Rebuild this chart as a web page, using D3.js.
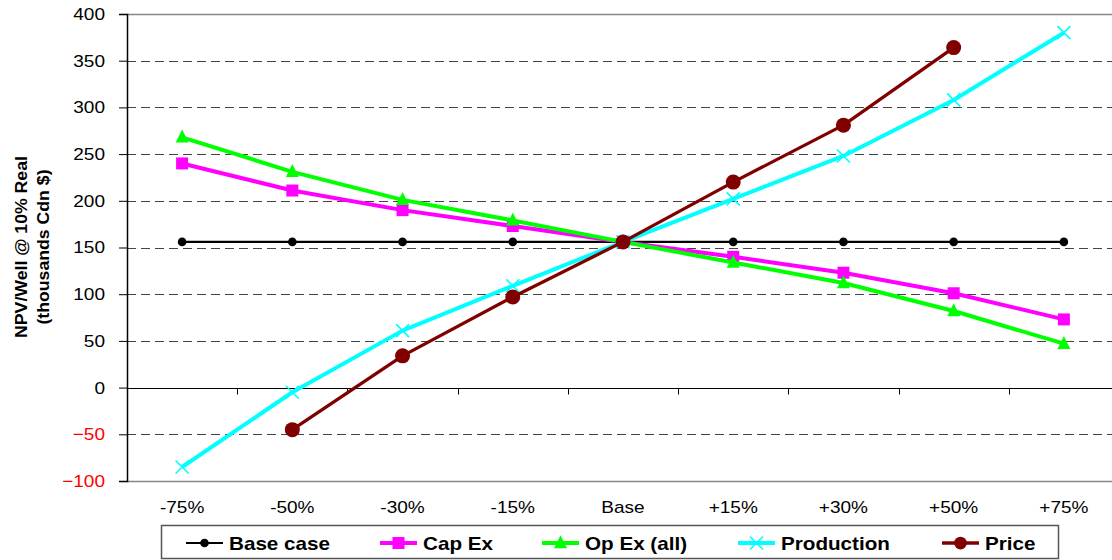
<!DOCTYPE html>
<html>
<head>
<meta charset="utf-8">
<script src="https://cdn.jsdelivr.net/npm/d3@7"></script>
<style>
  html, body { margin: 0; padding: 0; background: #fff; }
  svg { display: block; font-family: "Liberation Sans", Arial, sans-serif; }
</style>
</head>
<body>
<svg id="chart" width="1112" height="560"></svg>
<script>
// Sensitivity of NPV per well to changes in each input
const categories = ["-75%", "-50%", "-30%", "-15%", "Base", "+15%", "+30%", "+50%", "+75%"];
const yTicks = [-100, -50, 0, 50, 100, 150, 200, 250, 300, 350, 400];

const baseCase   = [156, 156, 156, 156, 156, 156, 156, 156, 156];
const capEx      = [240, 211, 190, 173, 156, 140, 123, 101, 73];
const opEx       = [268, 231, 201, 179, 156, 134, 112, 82, 47];
const production = [-85, -5, 61, 109, 156, 202, 248, 308, 380];
const price      = [null, -45, 34, 97, 156, 220, 281, 364, null];

const seriesNames  = ["Base case", "Cap Ex", "Op Ex (all)", "Production", "Price"];
const seriesValues = [baseCase, capEx, opEx, production, price];

const styles = [
  { color: "#000000", width: 2.2, marker: "dot" },
  { color: "#FF00FF", width: 4,   marker: "square" },
  { color: "#00FF00", width: 4,   marker: "triangle" },
  { color: "#00FFFF", width: 4,   marker: "cross" },
  { color: "#800000", width: 3.3, marker: "circle" }
];

const svg = d3.select("#chart");
const plotLeft = 127, plotTop = 14, plotBottom = 481, plotRight = 1119;
const wide = 1.12;   // horizontal widening used for all labels

const x = d3.scaleBand().domain(categories).range([plotLeft, plotRight]).padding(0);
const y = d3.scaleLinear().domain([-100, 400]).range([plotBottom, plotTop]);
const cx = c => x(c) + x.bandwidth() / 2;

// frame (top and bottom edges)
svg.append("line").attr("x1", plotLeft).attr("x2", 1112).attr("y1", plotTop + 0.5).attr("y2", plotTop + 0.5)
  .attr("stroke", "#888").attr("stroke-width", 1.5);
svg.append("line").attr("x1", plotLeft).attr("x2", 1112).attr("y1", plotBottom + 0.5).attr("y2", plotBottom + 0.5)
  .attr("stroke", "#888").attr("stroke-width", 1.5);

// dashed gridlines
svg.append("g").selectAll("line")
  .data(yTicks.filter(t => t !== 0 && t !== -100 && t !== 400))
  .join("line")
  .attr("x1", plotLeft).attr("x2", 1112)
  .attr("y1", d => Math.round(y(d)) + 0.5).attr("y2", d => Math.round(y(d)) + 0.5)
  .attr("stroke", "#444").attr("stroke-width", 1)
  .attr("stroke-dasharray", "9,5");

// y axis
const yAxis = svg.append("g").attr("transform", `translate(${plotLeft},0)`)
  .call(d3.axisLeft(y).tickValues(yTicks).tickSize(8).tickPadding(14).tickFormat(d3.format("d")));
yAxis.select(".domain").attr("stroke", "#000").attr("stroke-width", 1.5);
yAxis.selectAll(".tick line").attr("stroke", "#000");
yAxis.selectAll(".tick text")
  .attr("x", 0)
  .attr("transform", `translate(-22,0) scale(${wide},1)`)
  .attr("font-size", 17).attr("font-family", "Liberation Sans, Arial, sans-serif")
  .attr("fill", d => d < 0 ? "#FF0000" : "#000");

// category axis crossing at zero, ticks between categories
const y0 = Math.round(y(0)) + 0.5;
svg.append("line").attr("x1", plotLeft).attr("x2", 1112)
  .attr("y1", y0).attr("y2", y0)
  .attr("stroke", "#000").attr("stroke-width", 1);
svg.append("g").selectAll("line")
  .data(categories.slice(1))
  .join("line")
  .attr("x1", d => Math.round(x(d)) + 0.5).attr("x2", d => Math.round(x(d)) + 0.5)
  .attr("y1", y0).attr("y2", y0 + 6)
  .attr("stroke", "#000");

// category labels below the plot
svg.append("g").selectAll("text")
  .data(categories)
  .join("text")
  .attr("transform", d => `translate(${cx(d)},513) scale(${wide},1)`)
  .attr("text-anchor", "middle")
  .attr("font-size", 17)
  .text(d => d);

// y axis title
const title = svg.append("text")
  .attr("transform", "translate(27,247) rotate(-90) scale(1.04,1)")
  .attr("text-anchor", "middle")
  .attr("font-size", 17).attr("font-weight", "bold");
title.append("tspan").attr("x", 0).attr("dy", 0).text("NPV/Well @ 10% Real");
title.append("tspan").attr("x", 0).attr("dy", 22).text("(thousands Cdn $)");

// marker drawing
function drawMarker(g, kind, color, px, py, scale = 1) {
  if (kind === "dot") {
    g.append("circle").attr("cx", px).attr("cy", py).attr("r", 4.3 * scale).attr("fill", color);
  } else if (kind === "square") {
    const s = 12 * scale;
    g.append("rect").attr("x", px - s / 2).attr("y", py - s / 2).attr("width", s).attr("height", s).attr("fill", color);
  } else if (kind === "triangle") {
    const s = 13 * scale;
    g.append("path")
      .attr("d", `M${px},${py - s * 0.6}L${px + s / 2},${py + s * 0.4}L${px - s / 2},${py + s * 0.4}Z`)
      .attr("fill", color);
  } else if (kind === "cross") {
    const s = 6.5 * scale;
    g.append("path")
      .attr("d", `M${px - s},${py - s}L${px + s},${py + s}M${px - s},${py + s}L${px + s},${py - s}`)
      .attr("stroke", color).attr("stroke-width", 1.6).attr("fill", "none");
  } else if (kind === "circle") {
    g.append("circle").attr("cx", px).attr("cy", py).attr("r", 7.5 * scale).attr("fill", color);
  }
}

// series lines and markers
const line = d3.line()
  .defined(d => d.v !== null)
  .x(d => cx(d.c)).y(d => y(d.v));

seriesValues.forEach((vals, i) => {
  const st = styles[i];
  const pts = categories.map((c, j) => ({ c, v: vals[j] }));
  const g = svg.append("g");
  g.append("path").datum(pts)
    .attr("d", line)
    .attr("fill", "none").attr("stroke", st.color).attr("stroke-width", st.width)
    .attr("stroke-linejoin", "round");
  pts.filter(p => p.v !== null).forEach(p => drawMarker(g, st.marker, st.color, cx(p.c), y(p.v)));
});

// legend
const legendX = [186, 380, 542, 738, 942];
svg.append("rect").attr("x", 161.5).attr("y", 525.5).attr("width", 897).attr("height", 33)
  .attr("fill", "#fff").attr("stroke", "#555").attr("stroke-width", 1.5);
seriesNames.forEach((name, i) => {
  const st = styles[i];
  const g = svg.append("g");
  const lx = legendX[i], ly = 543;
  g.append("line").attr("x1", lx).attr("x2", lx + 37).attr("y1", ly).attr("y2", ly)
    .attr("stroke", st.color).attr("stroke-width", st.width);
  drawMarker(g, st.marker, st.color, lx + 18.5, ly, st.marker === "circle" ? 0.85 : 1);
  g.append("text")
    .attr("transform", `translate(${lx + 43},${ly + 6.5}) scale(1.18,1)`)
    .attr("font-size", 17.5).attr("font-weight", "bold")
    .text(name);
});
</script>
</body>
</html>
